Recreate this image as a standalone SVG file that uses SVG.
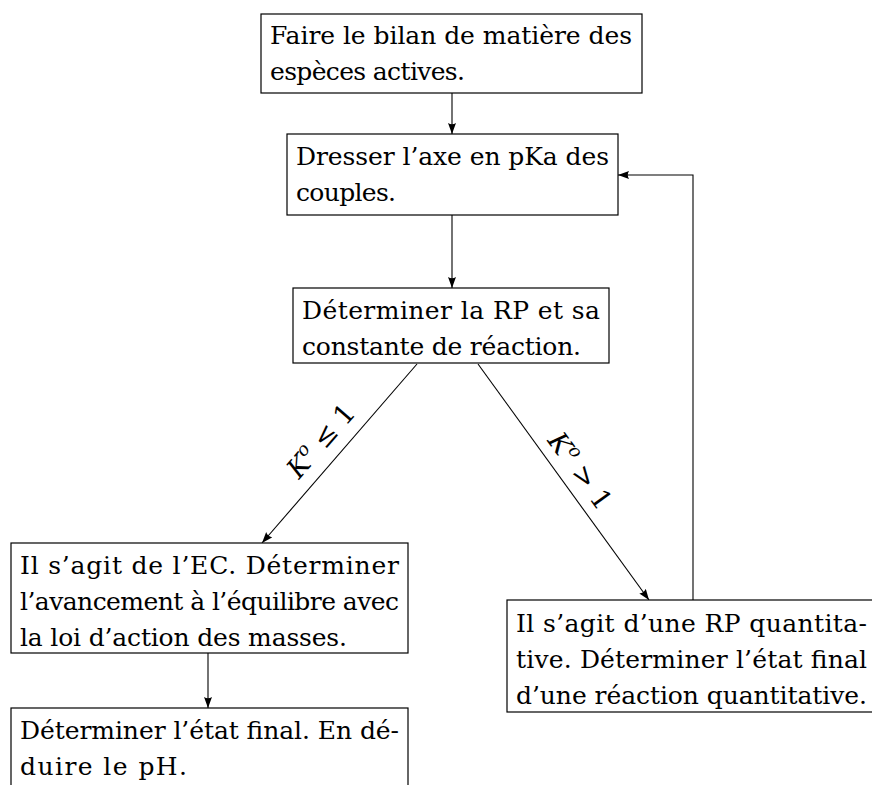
<svg xmlns="http://www.w3.org/2000/svg" width="872" height="785" viewBox="0 0 872 785">
<style>
  .box { fill: #ffffff; stroke: #000000; stroke-width: 1.2; }
  .t { font-family: "DejaVu Serif", "Liberation Serif", "Noto Serif", serif; font-size: 25px; fill: #000000; }
  .edge { fill: none; stroke: #000000; stroke-width: 1.1; }
  .lbl { font-family: "DejaVu Serif", "Liberation Serif", "Noto Serif", serif; font-size: 27px; fill: #000000; }
  .it { font-style: italic; }
</style>
<defs>
  <marker id="arr" markerUnits="userSpaceOnUse" markerWidth="12" markerHeight="10" refX="11" refY="4" orient="auto">
    <path d="M0,0 L11,4 L0,8 Q2.5,4 0,0 z" fill="#000000"/>
  </marker>
</defs>
<rect width="872" height="785" fill="#ffffff"/>

<g id="connectors">
  <line class="edge" x1="452" y1="93" x2="452" y2="134" marker-end="url(#arr)"/>
  <line class="edge" x1="452" y1="215" x2="452" y2="288" marker-end="url(#arr)"/>
  <line class="edge" x1="417" y1="364" x2="262" y2="543" marker-end="url(#arr)"/>
  <line class="edge" x1="478" y1="364" x2="649" y2="600" marker-end="url(#arr)"/>
  <line class="edge" x1="208" y1="653" x2="208" y2="708" marker-end="url(#arr)"/>
  <polyline class="edge" points="693,600 693,175 618,175" marker-end="url(#arr)"/>
  <text class="lbl" transform="translate(321,441) rotate(-49)" text-anchor="middle" dy="9"><tspan class="it">K</tspan><tspan class="it" font-size="18" dy="-11">o</tspan><tspan dy="11"> ≤ 1</tspan></text>
  <text class="lbl" transform="translate(580,471) rotate(54)" text-anchor="middle" dy="9"><tspan class="it">K</tspan><tspan class="it" font-size="18" dy="-11">o</tspan><tspan dy="11"> &gt; 1</tspan></text>
</g>

<g id="n1">
  <rect class="box" x="261" y="14" width="381" height="79"/>
  <text class="t" x="270" y="44" textLength="362" lengthAdjust="spacing">Faire le bilan de matière des</text>
  <text class="t" x="270" y="80" textLength="195" lengthAdjust="spacing">espèces actives.</text>
</g>

<g id="n2">
  <rect class="box" x="287" y="134" width="331" height="81"/>
  <text class="t" x="296" y="165" textLength="313" lengthAdjust="spacing">Dresser l’axe en pKa des</text>
  <text class="t" x="296" y="201" textLength="100" lengthAdjust="spacing">couples.</text>
</g>

<g id="n3">
  <rect class="box" x="293" y="288" width="316" height="75"/>
  <text class="t" x="302" y="319" textLength="298" lengthAdjust="spacing">Déterminer la RP et sa</text>
  <text class="t" x="302" y="355" textLength="279" lengthAdjust="spacing">constante de réaction.</text>
</g>

<g id="n4">
  <rect class="box" x="11" y="543" width="397" height="110"/>
  <text class="t" x="20" y="574" textLength="379" lengthAdjust="spacing">Il s’agit de l’EC. Déterminer</text>
  <text class="t" x="20" y="610" textLength="379" lengthAdjust="spacing">l’avancement à l’équilibre avec</text>
  <text class="t" x="20" y="646" textLength="327" lengthAdjust="spacing">la loi d’action des masses.</text>
</g>

<g id="n5">
  <rect class="box" x="11" y="708" width="397" height="110"/>
  <text class="t" x="20" y="739" textLength="379" lengthAdjust="spacing">Déterminer l’état final. En dé-</text>
  <text class="t" x="20" y="775" textLength="167" lengthAdjust="spacing">duire le pH.</text>
</g>

<g id="n6">
  <rect class="box" x="507" y="600" width="375" height="112"/>
  <text class="t" x="516" y="632" textLength="351" lengthAdjust="spacing">Il s’agit d’une RP quantita-</text>
  <text class="t" x="516" y="668" textLength="351" lengthAdjust="spacing">tive. Déterminer l’état final</text>
  <text class="t" x="516" y="704" textLength="351" lengthAdjust="spacing">d’une réaction quantitative.</text>
</g>
</svg>
